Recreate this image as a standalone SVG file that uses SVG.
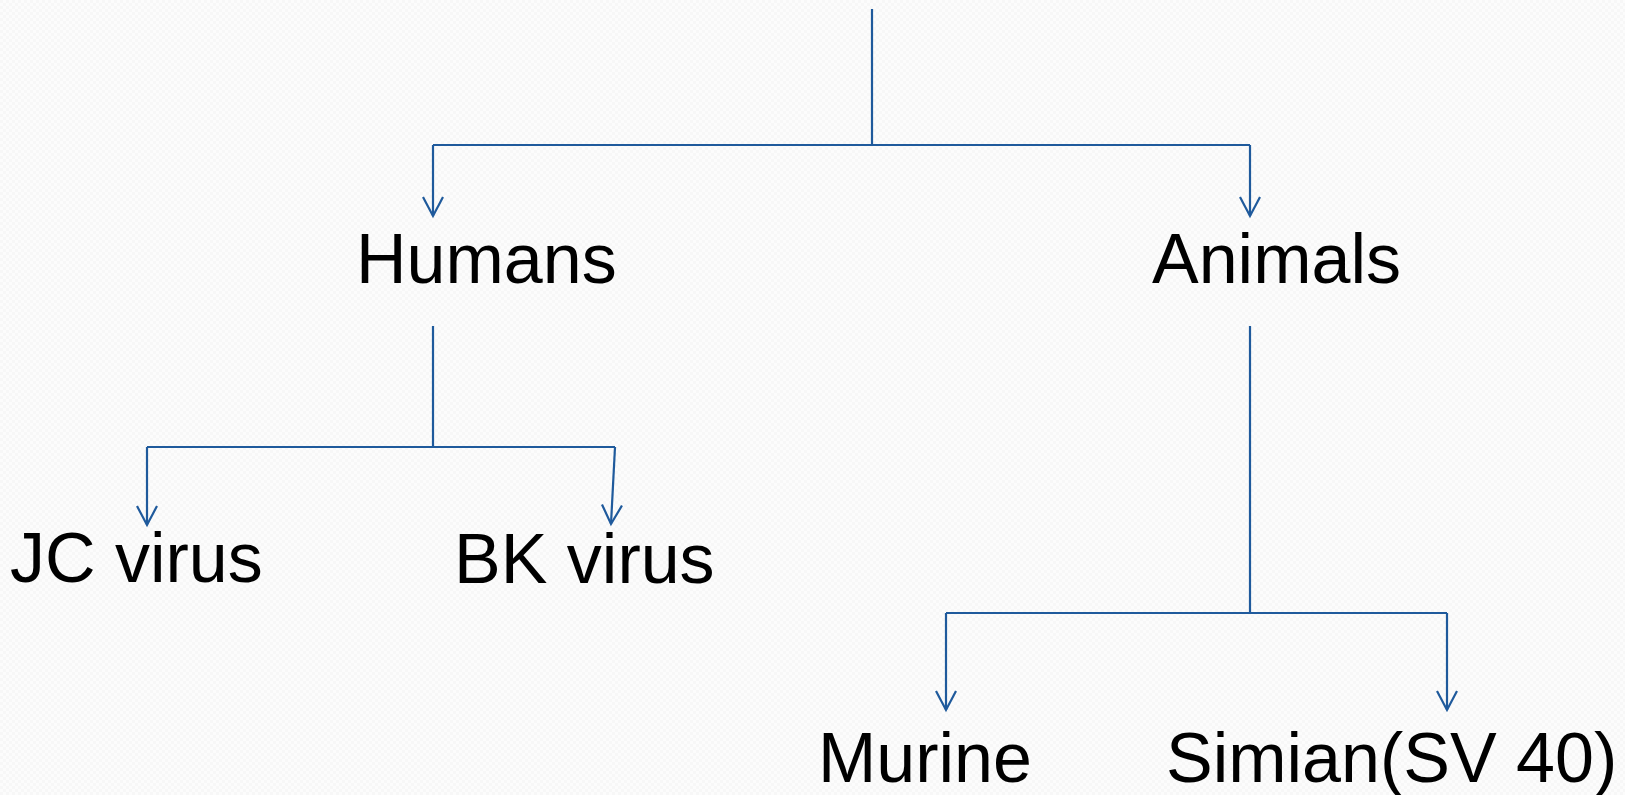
<svg xmlns="http://www.w3.org/2000/svg" width="1625" height="795" viewBox="0 0 1625 795">
<defs>
<pattern id="bg" width="6" height="6" patternUnits="userSpaceOnUse">
<rect width="6" height="6" fill="#fcfcfc"/>
<rect width="3" height="3" fill="#f7f7f7"/>
<rect x="3" y="3" width="3" height="3" fill="#f7f7f7"/>
</pattern>
<marker id="arr" markerUnits="userSpaceOnUse" markerWidth="30" markerHeight="30" refX="0" refY="0" orient="auto" viewBox="-25 -15 30 30" overflow="visible">
<path d="M-19,-10 L0,0 L-19,10" fill="none" stroke="#1f5a9c" stroke-width="2.2"/>
</marker>
</defs>
<style>
.c{fill:none;stroke:#1f5a9c;stroke-width:2.2}
.a{marker-end:url(#arr)}
.t{font-family:"Liberation Sans",Arial,sans-serif;font-size:70px;fill:#000}
</style>
<rect width="1625" height="795" fill="url(#bg)"/>
<g id="connectors">
<path class="c" d="M872,9 V145"/>
<path class="c" d="M433,145 H1250"/>
<path class="c a" d="M433,145 V216"/>
<path class="c a" d="M1250,145 V216"/>
<path class="c" d="M433,326 V447"/>
<path class="c" d="M147,447 H615"/>
<path class="c a" d="M147,447 V525"/>
<path class="c a" d="M615,447 L611,524"/>
<path class="c" d="M1250,326 V613"/>
<path class="c" d="M946,613 H1447"/>
<path class="c a" d="M946,613 V710"/>
<path class="c a" d="M1447,613 V710"/>
</g>
<g id="humans"><text class="t" x="356" y="283">Humans</text></g>
<g id="animals"><text class="t" x="1152" y="283">Animals</text></g>
<g id="jc"><text class="t" x="10" y="582">JC virus</text></g>
<g id="bk"><text class="t" x="454" y="583">BK virus</text></g>
<g id="murine"><text class="t" x="818" y="782">Murine</text></g>
<g id="simian"><text class="t" x="1166" y="782">Simian(SV 40)</text></g>
</svg>
